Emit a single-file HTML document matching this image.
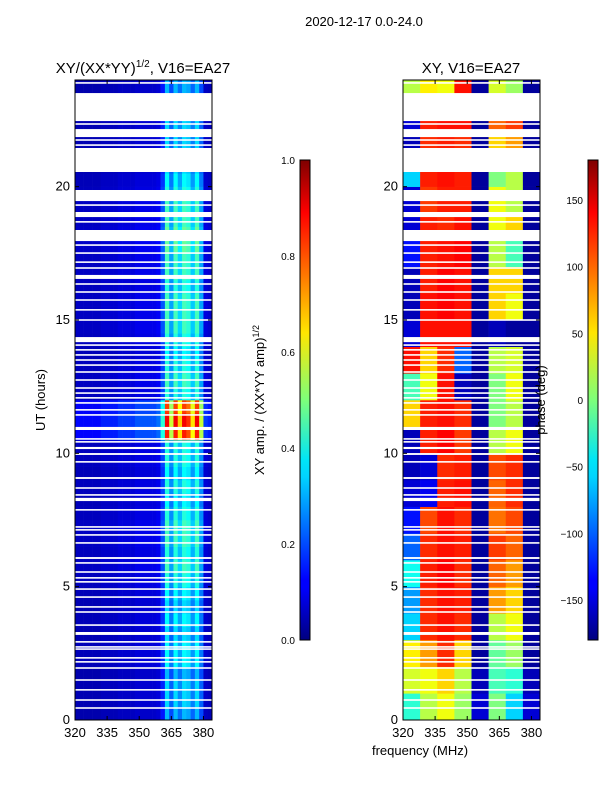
<!DOCTYPE html>
<html><head><meta charset="utf-8"><style>
body{margin:0;background:#fff;font-family:"Liberation Sans",sans-serif;}
svg text{font-family:"Liberation Sans",sans-serif;fill:#000;}
</style></head><body>
<svg id="fig" width="600" height="800" viewBox="0 0 600 800" xmlns="http://www.w3.org/2000/svg">
<defs>
<linearGradient id="jet" x1="0" y1="1" x2="0" y2="0">
<stop offset="0" stop-color="#00007f"/><stop offset="0.11" stop-color="#0000ff"/><stop offset="0.125" stop-color="#0000ff"/>
<stop offset="0.34" stop-color="#00d4ff"/><stop offset="0.375" stop-color="#00e5f7"/><stop offset="0.5" stop-color="#7dff7a"/>
<stop offset="0.64" stop-color="#ffe600"/><stop offset="0.66" stop-color="#ffd400"/><stop offset="0.89" stop-color="#ff0000"/><stop offset="1" stop-color="#7f0000"/>
</linearGradient>
</defs>
<text x="364" y="26" font-size="13" text-anchor="middle">2020-12-17 0.0-24.0</text>
<text x="143" y="73" font-size="15" text-anchor="middle">XY/(XX*YY)<tspan font-size="10" dy="-6">1/2</tspan><tspan dy="6">, V16=EA27</tspan></text>
<text x="471" y="73" font-size="15" text-anchor="middle">XY, V16=EA27</text>
<g id="ampG"></g>
<g id="phG"></g>
<g id="axG"></g>
<text x="45" y="400" font-size="13" text-anchor="middle" transform="rotate(-90 45 400)">UT (hours)</text>
<text x="420" y="755" font-size="13" text-anchor="middle">frequency (MHz)</text>
<rect x="300" y="160" width="10" height="480" fill="url(#jet)" stroke="#000" stroke-width="1"/>
<rect x="588" y="160" width="10" height="480" fill="url(#jet)" stroke="#000" stroke-width="1"/>
<text x="264" y="400" font-size="13" text-anchor="middle" transform="rotate(-90 264 400)">XY amp. / (XX*YY amp)<tspan font-size="9" dy="-5">1/2</tspan></text>
<text x="545" y="400" font-size="13" text-anchor="middle" transform="rotate(-90 545 400)">phase (deg)</text>
</svg>
<script>
const ampFreqs=[320,322,324,326,328,330,332,334,336,338,340,342,344,346,348,350,352,354,356,358,360,362,364,366,368,370,372,374,376,378,380,382];
const ampBandBase=[0.05,0.05,0.05,0.05,0.05,0.05,0.06,0.06,0.06,0.06,0.07,0.07,0.07,0.07,0.08,0.08,0.08,0.08,0.08,0.09,0.16,0.34,0.22,0.34,0.26,0.34,0.32,0.25,0.34,0.22,0.07,0.06];
const ampRowGain=[0.9,1,1,0.9,1.1,1.1,1,1.1,1,1.1,1.2,1.3,1.2,1.3,1.3,1.2,1.1,1.2,1.1,1.2,1.2,2.5,2.6,2.4,1.2,1.3,1.2,1.1,1.2,1.3,1.3,1.3,1.2,1.3,1.3,1.4,1.4,1.3,1.3,1.2,1.1,1,1,1,1,1,0.9,0.9];
const phaseFreqs=[320,328,336,344,352,360,368,376];
const phaseRows=[
[-30,20,40,10,-150,0,-60,-150],[30,40,60,20,-160,-20,-30,-160],[50,80,120,60,-170,-10,10,-170],[-60,120,130,120,-170,20,40,-170],
[-80,120,130,125,-170,80,60,-170],[-40,125,135,120,-170,100,80,-170],[-100,120,130,125,-170,115,100,-170],[-130,110,130,120,-170,95,110,-170],
[-150,-140,125,130,-170,100,120,-170],[-160,-150,120,125,-170,110,120,-170],[-160,125,135,115,-170,20,40,-170],[60,125,130,120,-170,0,20,-170],
[-20,40,130,-160,-170,0,40,-170],[130,60,120,-100,-170,20,30,-170],[-150,130,130,130,-170,-160,-170,-170],[-160,130,135,130,-170,60,40,-170],
[-160,125,135,130,-170,60,60,-170],[-130,125,130,135,-170,20,-20,-170],[-150,125,120,130,-170,40,60,-170],[-150,115,125,125,-170,40,20,-170],
[-60,125,130,125,-170,0,20,-170],[-160,120,125,120,-170,60,80,-170],[-150,125,130,130,-170,100,115,-170],[20,50,40,130,-170,30,10,-170]];
const gapStarts=[23.51,22.16,21.45,19.875,19.05,18.375,16.69,14.36,10.99,10.24,10.01,9.11,8.33,6.11,3.30];
const gapEnds=[22.46,21.86,20.55,19.46,18.86,17.96,16.54,14.17,10.875,10.16,9.94,9.04,8.21,6.04,3.19];
const thinGaps=[23.89,22.35,21.75,21.56,19.31,18.68,17.81,17.51,17.17,16.95,16.35,16.05,15.75,15.38,15.0,14.06,13.88,13.69,13.5,13.31,13.05,12.75,12.45,12.26,12.08,11.89,11.63,11.44,10.54,10.43,9.68,8.7,8.44,7.88,7.24,7.13,6.94,6.64,5.89,5.55,5.33,5.18,4.91,4.61,4.24,4.05,3.56,2.93,2.74,2.66,2.33,2.18,1.95,1.5,1.13,0.75,0.45];
const hourTicks=[0,5,10,15,20];
const freqTicks=[320,335,350,365,380];
const ampCbTicks=[0,0.2,0.4,0.6,0.8,1.0];
const phCbTicks=[-150,-100,-50,0,50,100,150];

const NS="http://www.w3.org/2000/svg";
const P1={x0:75,x1:212},P2={x0:403,x1:540},Y0=720,Y1=80,F0=320,F1=384;
function yS(h){return Y0-(h/24)*(Y0-Y1);}
function xS(P,f){return P.x0+(f-F0)/(F1-F0)*(P.x1-P.x0);}
function jet(v){v=Math.max(0,Math.min(1,v));
 const r=Math.max(0,Math.min(1,1.5-Math.abs(4*v-3))),g=Math.max(0,Math.min(1,1.5-Math.abs(4*v-2))),b=Math.max(0,Math.min(1,1.5-Math.abs(4*v-1)));
 return `rgb(${Math.round(r*255)},${Math.round(g*255)},${Math.round(b*255)})`;}
function mk(t,a,parent){const e=document.createElementNS(NS,t);for(const k in a)e.setAttribute(k,a[k]);parent.appendChild(e);return e;}
const ampG=document.getElementById('ampG'),phG=document.getElementById('phG'),axG=document.getElementById('axG');
ampRowGain.forEach((g,r)=>{ampFreqs.forEach((f,c)=>{
 const x=xS(P1,f),x2=xS(P1,Math.min(F1,f+2)),ya=yS(r*0.5+0.5),yb=yS(r*0.5);
 const e=mk('rect',{x:x,y:ya,width:x2-x+0.3,height:yb-ya+0.3,fill:jet(ampBandBase[c]*g)},ampG);
 
 
});});
phaseRows.forEach((row,r)=>{row.forEach((v,c)=>{
 const f=phaseFreqs[c],x=xS(P2,f),x2=xS(P2,Math.min(F1,f+8)),ya=yS(r+1),yb=yS(r);
 const e=mk('rect',{x:x,y:ya,width:x2-x+0.3,height:yb-ya+0.3,fill:jet((v+180)/360)},phG);
 
 
});});
[P1,P2].forEach(P=>{
 gapStarts.forEach((s,i)=>{const e=mk('rect',{x:P.x0,y:yS(s),width:P.x1-P.x0,height:yS(gapEnds[i])-yS(s),fill:'#fff'},axG);
  
  });
 thinGaps.forEach(h=>{const e=mk('rect',{x:P.x0,y:yS(h)-0.8,width:P.x1-P.x0,height:1.6,fill:'#fff'},axG);
  
  });
 const fr=mk('rect',{x:P.x0,y:Y1,width:P.x1-P.x0,height:Y0-Y1,fill:'none',stroke:'#000','stroke-width':1},axG);
 
 
 hourTicks.forEach(h=>{const y=yS(h);
  mk('line',{x1:P.x0,x2:P.x0+4,y1:y,y2:y,stroke:'#000'},axG);
  mk('line',{x1:P.x1,x2:P.x1-4,y1:y,y2:y,stroke:'#000'},axG);
  const t=mk('text',{x:P.x0-5,y:y+4,'font-size':13,'text-anchor':'end'},axG);t.textContent=h;
  
  });
 freqTicks.forEach(f=>{const x=xS(P,f);
  mk('line',{x1:x,x2:x,y1:Y0,y2:Y0-4,stroke:'#000'},axG);
  mk('line',{x1:x,x2:x,y1:Y1,y2:Y1+4,stroke:'#000'},axG);
  const t=mk('text',{x:x,y:Y0+17,'font-size':13,'text-anchor':'middle'},axG);t.textContent=f;
  
  });
});
ampCbTicks.forEach(v=>{const y=640-v*480;
 mk('line',{x1:300,x2:304,y1:y,y2:y,stroke:'#000'},axG);mk('line',{x1:310,x2:306,y1:y,y2:y,stroke:'#000'},axG);
 const t=mk('text',{x:295,y:y+4,'font-size':10,'text-anchor':'end'},axG);t.textContent=v.toFixed(1);
 
 });
phCbTicks.forEach(v=>{const y=640-(v+180)/360*480;
 mk('line',{x1:588,x2:592,y1:y,y2:y,stroke:'#000'},axG);mk('line',{x1:598,x2:594,y1:y,y2:y,stroke:'#000'},axG);
 const t=mk('text',{x:583,y:y+4,'font-size':10,'text-anchor':'end'},axG);t.textContent=v<0?'\u2212'+(-v):v;
 
 });
</script>
</body></html>
